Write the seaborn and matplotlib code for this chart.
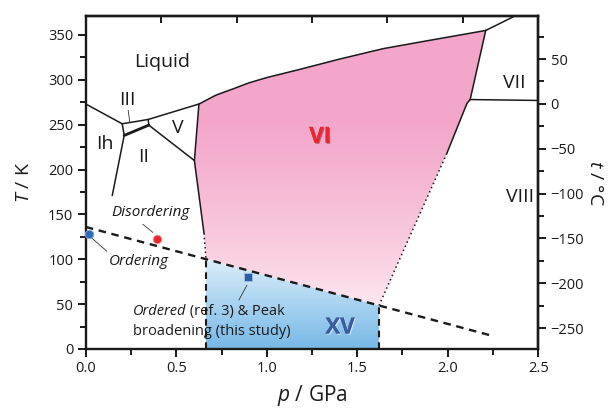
import numpy as np
import matplotlib
matplotlib.use("Agg")
import matplotlib.pyplot as plt
import seaborn as sns
import pandas as pd
from matplotlib.patches import Polygon
import matplotlib.patheffects as pe

# ---------------- data (p in GPa, T in K) ----------------
ih_liq_p = [0.0, 0.201];   ih_liq_T = [273, 251]
iii_liq_p = [0.201, 0.345]; iii_liq_T = [251, 255.8]
v_liq_p = [0.345, 0.625];  v_liq_T = [255.8, 273]
vi_liq_p = [0.625, 0.72, 0.815, 0.9, 1.0, 1.18, 1.4, 1.645, 1.9, 2.21]
vi_liq_T = [273, 283, 290, 296.5, 302.5, 311.5, 323, 334.8, 344, 355]
vii_liq_p = [2.21, 2.40];  vii_liq_T = [355, 374]
ih_iii_p = [0.201, 0.212]; ih_iii_T = [251, 238]
ih_ii_p = [0.212, 0.146];  ih_ii_T = [238, 171]
ii_iii_p = [0.212, 0.348]; ii_iii_T = [238, 249.5]
iii_v_p = [0.345, 0.348];  iii_v_T = [255.8, 249.5]
ii_v_p = [0.348, 0.60];    ii_v_T = [249.5, 210]
v_vi_p = [0.625, 0.60];    v_vi_T = [273, 210]
ii_vi_p = [0.60, 0.653];   ii_vi_T = [210, 129]
ii_vi_ext_p = [0.653, 0.664]; ii_vi_ext_T = [129, 100]
vi_vii_p = [2.21, 2.124];  vi_vii_T = [355, 278]
vii_viii_p = [2.124, 2.5]; vii_viii_T = [278, 277]
vi_viii_p = [2.124, 2.106, 1.995]; vi_viii_T = [278, 273.6, 218]
vi_viii_ext_p = [1.995, 1.62]; vi_viii_ext_T = [218, 48.5]
order_p = [0.0, 2.24];     order_T = [136, 15]
xv_left_p = [0.664, 0.664]; xv_left_T = [0, 100]
xv_right_p = [1.62, 1.62];  xv_right_T = [0, 48.5]

ordering_p = [0.018];  ordering_T = [128]
disorder_p = [0.396];  disorder_T = [123]
ordered_p = [0.898];   ordered_T = [80]

x_ticks = [0.0, 0.5, 1.0, 1.5, 2.0, 2.5]
y_ticks = [0, 50, 100, 150, 200, 250, 300, 350]
t_ticks = [-250, -200, -150, -100, -50, 0, 50]

# ---------------- style ----------------
sns.set_theme(style="ticks")
plt.rcParams['font.family'] = ['Open Sans', 'DejaVu Sans']
plt.rcParams['mathtext.fontset'] = 'custom'
plt.rcParams['mathtext.it'] = 'Open Sans:italic'
plt.rcParams['mathtext.rm'] = 'Open Sans'

fig = plt.figure(figsize=(6.13, 4.13), dpi=100)
ax = fig.add_axes([0.140, 0.155, 0.878 - 0.140, 0.961 - 0.155])
XMAX, YMAX = 2.5, 371

# ---------------- gradient fills ----------------
pink_poly = [(ii_vi_ext_p[1], ii_vi_ext_T[1]), (ii_vi_p[1], ii_vi_T[1]),
             (ii_vi_p[0], ii_vi_T[0])]
pink_poly += list(zip(vi_liq_p, vi_liq_T))
pink_poly += list(zip(vi_vii_p[1:], vi_vii_T[1:]))
pink_poly += list(zip(vi_viii_p[1:], vi_viii_T[1:]))
pink_poly += [(vi_viii_ext_p[1], vi_viii_ext_T[1])]

Ty = np.linspace(0, YMAX, 400)[:, None]
pink_top = np.array([243, 166, 201]) / 255
pink_bot = np.array([254, 240, 246]) / 255
f = np.clip((Ty - 40) / (255 - 40), 0, 1) ** 0.7
img = pink_bot * (1 - f[..., None]) + pink_top * f[..., None]
im = ax.imshow(img, extent=[0, XMAX, 0, YMAX], origin='lower', aspect='auto', zorder=1)
pp = Polygon(pink_poly, closed=True, transform=ax.transData, facecolor='none', edgecolor='none')
ax.add_patch(pp)
im.set_clip_path(pp)

blue_poly = [(xv_left_p[0], 0), (xv_left_p[1], xv_left_T[1]),
             (xv_right_p[1], xv_right_T[1]), (xv_right_p[0], 0)]
blue_top = np.array([220, 238, 250]) / 255
blue_bot = np.array([118, 184, 230]) / 255
g = np.clip(Ty / 100, 0, 1)
img2 = blue_bot * (1 - g[..., None]) + blue_top * g[..., None]
im2 = ax.imshow(img2, extent=[0, XMAX, 0, YMAX], origin='lower', aspect='auto', zorder=1)
bp = Polygon(blue_poly, closed=True, transform=ax.transData, facecolor='none', edgecolor='none')
ax.add_patch(bp)
im2.set_clip_path(bp)

# ---------------- boundary lines ----------------
def seg(p, T, **kw):
    d = pd.DataFrame({'p': p, 'T': T})
    sns.lineplot(data=d, x='p', y='T', ax=ax, sort=False, estimator=None,
                 color='#1a1a1a', zorder=4, legend=False, **kw)

for p, T in [(ih_liq_p, ih_liq_T), (iii_liq_p, iii_liq_T), (v_liq_p, v_liq_T),
             (vi_liq_p, vi_liq_T), (vii_liq_p, vii_liq_T), (ih_iii_p, ih_iii_T),
             (ih_ii_p, ih_ii_T), (iii_v_p, iii_v_T), (ii_v_p, ii_v_T),
             (v_vi_p, v_vi_T), (ii_vi_p, ii_vi_T), (vi_vii_p, vi_vii_T),
             (vii_viii_p, vii_viii_T), (vi_viii_p, vi_viii_T)]:
    seg(p, T, lw=1.1)
seg(ii_iii_p, ii_iii_T, lw=2.0)
seg(ii_vi_ext_p, ii_vi_ext_T, lw=1.1, linestyle=(0, (1, 2)))
seg(vi_viii_ext_p, vi_viii_ext_T, lw=1.1, linestyle=(0, (1, 2)))
seg(order_p, order_T, lw=1.7, linestyle=(0, (3.2, 2.4)))
seg(xv_left_p, xv_left_T, lw=1.5, linestyle=(0, (3.2, 2.4)))
seg(xv_right_p, xv_right_T, lw=1.5, linestyle=(0, (3.2, 2.4)))

# ---------------- markers ----------------
sns.scatterplot(x=ordering_p, y=ordering_T, ax=ax, color='#2f69b3', s=38,
                marker='o', edgecolor='#8fb3e0', linewidth=0.6, zorder=6, clip_on=False)
sns.scatterplot(x=disorder_p, y=disorder_T, ax=ax, color='#e8262d', s=38,
                marker='o', edgecolor='#f59a9c', linewidth=0.6, zorder=6)
sns.scatterplot(x=ordered_p, y=ordered_T, ax=ax, color='#2b5ea8', s=36,
                marker='s', edgecolor='#9fc0e6', linewidth=0.6, zorder=6)

# connectors
cl = dict(color='#333333', lw=0.6, zorder=5)
ax.plot([0.234, 0.243], [266, 252.7], **cl)
ax.plot([0.315, 0.37], [139, 130], **cl)
ax.plot([0.033, 0.116], [123.6, 109], **cl)
ax.plot([0.89, 0.846], [71, 54.6], **cl)

# ---------------- labels ----------------
lab = dict(fontsize=14, color='#1a1a1a', ha='center', va='center', zorder=7)
ax.text(0.42, 320, 'Liquid', **lab)
ax.text(0.232, 277, 'III', **lab)
ax.text(0.105, 228, 'Ih', **lab)
ax.text(0.32, 214, 'II', **lab)
ax.text(0.51, 246, 'V', **lab)
ax.text(2.37, 297, 'VII', **lab)
ax.text(2.40, 169, 'VIII', **lab)
ax.text(1.295, 236, 'VI', fontsize=16, fontweight='bold', color='#e8262d',
        ha='center', va='center', zorder=7,
        path_effects=[pe.withSimplePatchShadow(offset=(0.8, -0.8),
                                               shadow_rgbFace='#7a1a22', alpha=0.5),
                      pe.Normal()])
ax.text(1.405, 23.4, 'XV', fontsize=16, fontweight='bold', color='#3b5c9e',
        ha='center', va='center', zorder=7,
        path_effects=[pe.withSimplePatchShadow(offset=(0.8, -0.8),
                                               shadow_rgbFace='#ffffff', alpha=0.6),
                      pe.Normal()])

it = dict(fontsize=11, style='italic', color='#1a1a1a', ha='center', va='center', zorder=7)
ax.text(0.36, 152.5, 'Disordering', **it)
ax.text(0.293, 98, 'Ordering', **it)
t1 = ax.text(0.26, 42.3, 'Ordered', fontsize=10.5, style='italic', color='#1a1a1a',
             ha='left', va='center', zorder=7)
ax.annotate(' (ref. 3) & Peak', xy=(1, 0), xycoords=t1, ha='left', va='bottom',
            fontsize=10.5, color='#1a1a1a', zorder=7)
ax.text(0.26, 20, 'broadening (this study)', fontsize=10.5, color='#1a1a1a',
        ha='left', va='center', zorder=7)

# ---------------- axes ----------------
ax.set_xlim(0, XMAX)
ax.set_ylim(0, YMAX)
ax.set_xticks(x_ticks)
ax.set_xticklabels([f'{v:.1f}' for v in x_ticks])
ax.set_xticks(np.arange(0, 2.51, 0.25), minor=True)
ax.set_yticks(y_ticks)
ax.set_yticks(np.arange(0, 351, 25), minor=True)
ax.tick_params(axis='both', which='major', length=6, width=1.4, labelsize=10.5,
               direction='out', color='#1a1a1a', labelcolor='#1a1a1a', pad=3)
ax.tick_params(axis='both', which='minor', length=4, width=1.4, direction='out',
               color='#1a1a1a')
for s in ax.spines.values():
    s.set_linewidth(1.7)
    s.set_color('#1a1a1a')
    s.set_visible(True)

ax.set_xlabel('$p$ / GPa', fontsize=15, color='#1a1a1a', labelpad=5)
ax.set_ylabel('$T$ / K', fontsize=14, color='#1a1a1a', labelpad=11)

sec = ax.secondary_yaxis('right', functions=(lambda T: T - 273.15, lambda t: t + 273.15))
sec.set_yticks(t_ticks)
sec.set_yticklabels([f'{v}'.replace('-', '\u2212') for v in t_ticks])
sec.set_yticks(np.arange(-275, 76, 25), minor=True)
sec.tick_params(axis='y', which='major', length=6, width=1.4, labelsize=10.5,
                color='#1a1a1a', labelcolor='#1a1a1a', pad=3)
sec.tick_params(axis='y', which='minor', length=4, width=1.4, color='#1a1a1a')
sec.spines['right'].set_linewidth(1.7)
sec.set_ylabel('$t$ / °C', fontsize=14, rotation=270, labelpad=14, color='#1a1a1a')

top = ax.secondary_xaxis('top')
top.set_xticks(np.linspace(0, 2.5, 7))
top.set_xticklabels([])
top.tick_params(axis='x', direction='in', length=5, width=1.4, color='#1a1a1a')
top.spines['top'].set_linewidth(1.7)

fig.savefig('out.png', dpi=100)
